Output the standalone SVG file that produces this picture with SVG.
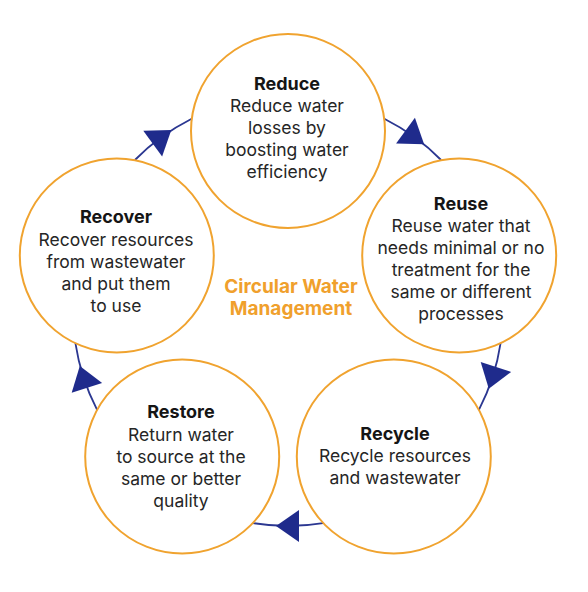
<svg xmlns="http://www.w3.org/2000/svg" width="588" height="592" viewBox="0 0 588 592">
<style>
.ring{fill:none;stroke:#2b3791;stroke-width:1.8;marker-mid:url(#arr)}
.node{fill:#ffffff;stroke:#f0a32f;stroke-width:2}
text{font-family:Inter,"Noto Sans","Liberation Sans",sans-serif;font-size:17.5px;text-anchor:middle;fill:#262626}
.t{font-weight:700;fill:#151515;font-size:18px}
.c{font-weight:700;fill:#f0a02c;font-size:19px}
</style>
<defs>
<marker id="arr" viewBox="-12 -17 25 34" refX="0" refY="0" markerWidth="25" markerHeight="34" markerUnits="userSpaceOnUse" orient="auto" overflow="visible">
<path d="M12,0 L-11,-16 L-11,16 Z" fill="#1f2b8c"/>
</marker>
</defs>
<rect width="588" height="592" fill="#ffffff"/>
<g id="connectors">
<path class="ring" d="M384.3,118.7 A215,215 0 0 1 414.4,137.1 A215,215 0 0 1 441.1,160"/>
<path class="ring" d="M500.6,343.1 A215,215 0 0 1 492.5,377.4 A215,215 0 0 1 478.9,409.9"/>
<path class="ring" d="M323.1,523.1 A215,215 0 0 1 288,526 A215,215 0 0 1 252.9,523.1"/>
<path class="ring" d="M97.1,409.9 A215,215 0 0 1 83.5,377.4 A215,215 0 0 1 75.4,343.1"/>
<path class="ring" d="M134.9,160 A215,215 0 0 1 161.6,137.1 A215,215 0 0 1 191.7,118.7"/>
</g>
<g id="reduce">
<circle class="node" cx="288" cy="131" r="97"/>
<text x="287" y="90" class="t">Reduce</text>
<text x="287" y="112">Reduce water</text>
<text x="287" y="134">losses by</text>
<text x="287" y="156">boosting water</text>
<text x="287" y="178">efficiency</text>
</g>
<g id="reuse">
<circle class="node" cx="459.2" cy="255.5" r="97"/>
<text x="461" y="210" class="t">Reuse</text>
<text x="461" y="232">Reuse water that</text>
<text x="461" y="254">needs minimal or no</text>
<text x="461" y="276">treatment for the</text>
<text x="461" y="298">same or different</text>
<text x="461" y="320">processes</text>
</g>
<g id="recycle">
<circle class="node" cx="393.8" cy="456.5" r="97"/>
<text x="395" y="440" class="t">Recycle</text>
<text x="395" y="462">Recycle resources</text>
<text x="395" y="484">and wastewater</text>
</g>
<g id="restore">
<circle class="node" cx="182.2" cy="456.5" r="97"/>
<text x="181" y="418" class="t">Restore</text>
<text x="181" y="441">Return water</text>
<text x="181" y="463">to source at the</text>
<text x="181" y="485">same or better</text>
<text x="181" y="507">quality</text>
</g>
<g id="recover">
<circle class="node" cx="116.8" cy="255.5" r="97"/>
<text x="116" y="223" class="t">Recover</text>
<text x="116" y="246">Recover resources</text>
<text x="116" y="268">from wastewater</text>
<text x="116" y="290">and put them</text>
<text x="116" y="312">to use</text>
</g>
<g id="center">
<text x="291" y="293" class="c">Circular Water</text>
<text x="291" y="315" class="c">Management</text>
</g>
</svg>
